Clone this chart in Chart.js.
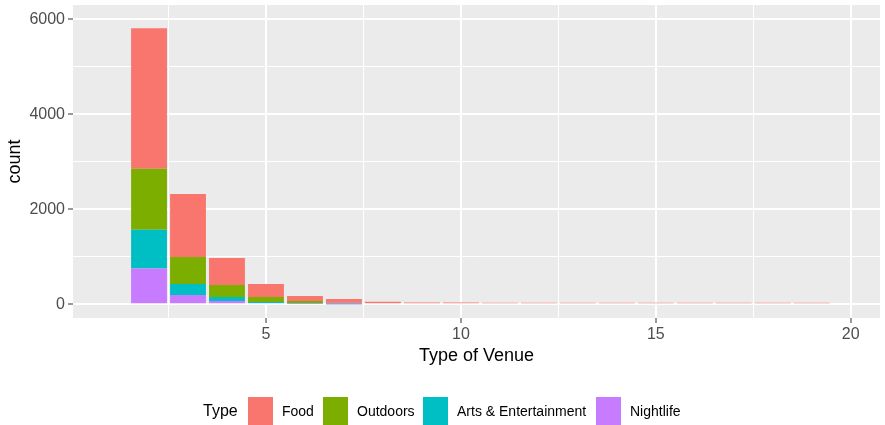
<!DOCTYPE html>
<html>
<head>
<meta charset="utf-8">
<script src="https://cdn.jsdelivr.net/npm/chart.js@4.4.1/dist/chart.umd.min.js"></script>
<style>
  body { margin: 0; background: #fff; }
  #wrap { position: relative; width: 885px; height: 425px; font-family: "Liberation Sans", Arial, sans-serif; }
  .lg { position: absolute; top: 397px; height: 28px; line-height: 28px; font-size: 14px; color: #000; white-space: nowrap; }
  .key { position: absolute; top: 397px; width: 25px; height: 28px; }
</style>
</head>
<body>
<div id="wrap">
  <canvas id="chart"></canvas>
  <div class="lg" style="left:203px;font-size:16px;">Type</div>
  <div class="key" style="left:248px;background:#F8766D;"></div>
  <div class="lg" style="left:282px;">Food</div>
  <div class="key" style="left:323px;background:#7CAE00;"></div>
  <div class="lg" style="left:357px;">Outdoors</div>
  <div class="key" style="left:423px;background:#00BFC4;"></div>
  <div class="lg" style="left:457px;">Arts &amp; Entertainment</div>
  <div class="key" style="left:596px;background:#C77CFF;"></div>
  <div class="lg" style="left:630px;">Nightlife</div>
</div>
<script>
// number of venues per user (bins of width 1)
const venueCounts = [2, 3, 4, 5, 6, 7, 8, 9, 10, 11, 12, 13, 14, 15, 16, 17, 18, 19];
const food      = [2960, 1326, 569, 273, 105, 80, 30, 14, 14, 30, 30, 30, 30, 30, 30, 30, 30, 30];
const outdoors  = [1280, 569, 252, 106, 50, 16, 20, 22, 22, 0, 0, 0, 0, 0, 0, 0, 0, 0];
const arts      = [820, 231, 84, 21, 8, 14, 0, 0, 0, 0, 0, 0, 0, 0, 0, 0, 0, 0];
const nightlife = [750, 196, 70, 27, 12, 2, 0, 0, 0, 0, 0, 0, 0, 0, 0, 0, 0, 0];
// grid lines (major + minor) and the labelled ones
const xGrid = [2.5, 5, 7.5, 10, 12.5, 15, 17.5, 20];
const xTickLabels = [5, 10, 15, 20];
const yGrid = [0, 1000, 2000, 3000, 4000, 5000, 6000];
const yTickLabels = [0, 2000, 4000, 6000];

function pts(arr) {
    return venueCounts.map((x, i) => ({ x: x, y: arr[i] }));
}

const panelBg = {
    id: 'panelBg',
    beforeDraw(chart) {
        const a = chart.chartArea;
        chart.ctx.save();
        chart.ctx.fillStyle = '#EBEBEB';
        chart.ctx.fillRect(a.left, a.top, a.right - a.left, a.bottom - a.top);
        chart.ctx.restore();
    }
};

Chart.defaults.font.family = '"Liberation Sans", Arial, sans-serif';
Chart.defaults.animation = false;

const ctx = document.getElementById('chart');
new Chart(ctx, {
    type: 'bar',
    data: {
        // stacked bottom to top: Nightlife, Arts, Outdoors, Food
        datasets: [
            { label: 'Nightlife', backgroundColor: '#C77CFF', data: pts(nightlife) },
            { label: 'Arts & Entertainment', backgroundColor: '#00BFC4', data: pts(arts) },
            { label: 'Outdoors', backgroundColor: '#7CAE00', data: pts(outdoors) },
            { label: 'Food', backgroundColor: '#F8766D', data: pts(food) }
        ]
    },
    options: {
        responsive: true,
        maintainAspectRatio: false,
        barPercentage: 0.92,
        categoryPercentage: 1,
        layout: { padding: { top: 5, right: 5, bottom: 54, left: 0 } },
        plugins: {
            legend: { display: false },
            tooltip: { enabled: false }
        },
        scales: {
            x: {
                type: 'linear',
                stacked: true,
                offset: false,
                min: 0.05,
                max: 20.75,
                border: { display: false },
                grid: {
                    offset: false,
                    color: '#FFFFFF',
                    lineWidth: c => xTickLabels.includes(c.tick && c.tick.value) ? 2 : 1,
                    tickColor: c => xTickLabels.includes(c.tick && c.tick.value) ? '#333333' : 'rgba(0,0,0,0)',
                    tickLength: 5,
                    tickWidth: 1
                },
                ticks: {
                    autoSkip: false,
                    maxRotation: 0,
                    padding: 2,
                    color: '#4D4D4D',
                    font: { size: 16 },
                    callback: v => xTickLabels.includes(v) ? String(v) : ''
                },
                afterBuildTicks: s => { s.ticks = xGrid.map(v => ({ value: v })); },
                title: {
                    display: true,
                    text: 'Type of Venue',
                    color: '#000000',
                    font: { size: 18 },
                    padding: 4
                },
                afterFit: s => { s.height = 53; s.paddingLeft = 0; s.paddingRight = 0; }
            },
            y: {
                stacked: true,
                min: -290,
                max: 6300,
                border: { display: false },
                grid: {
                    color: '#FFFFFF',
                    lineWidth: c => yTickLabels.includes(c.tick && c.tick.value) ? 2 : 1,
                    tickColor: c => yTickLabels.includes(c.tick && c.tick.value) ? '#333333' : 'rgba(0,0,0,0)',
                    tickLength: 5,
                    tickWidth: 1
                },
                ticks: {
                    autoSkip: false,
                    padding: 3,
                    color: '#4D4D4D',
                    font: { size: 16 },
                    callback: v => yTickLabels.includes(v) ? String(v) : ''
                },
                afterBuildTicks: s => { s.ticks = yGrid.map(v => ({ value: v })); },
                title: {
                    display: true,
                    text: 'count',
                    color: '#000000',
                    font: { size: 18 },
                    padding: 4
                },
                afterFit: s => { s.width = 73; s.paddingTop = 0; s.paddingBottom = 0; }
            }
        }
    },
    plugins: [panelBg]
});
</script>
</body>
</html>
